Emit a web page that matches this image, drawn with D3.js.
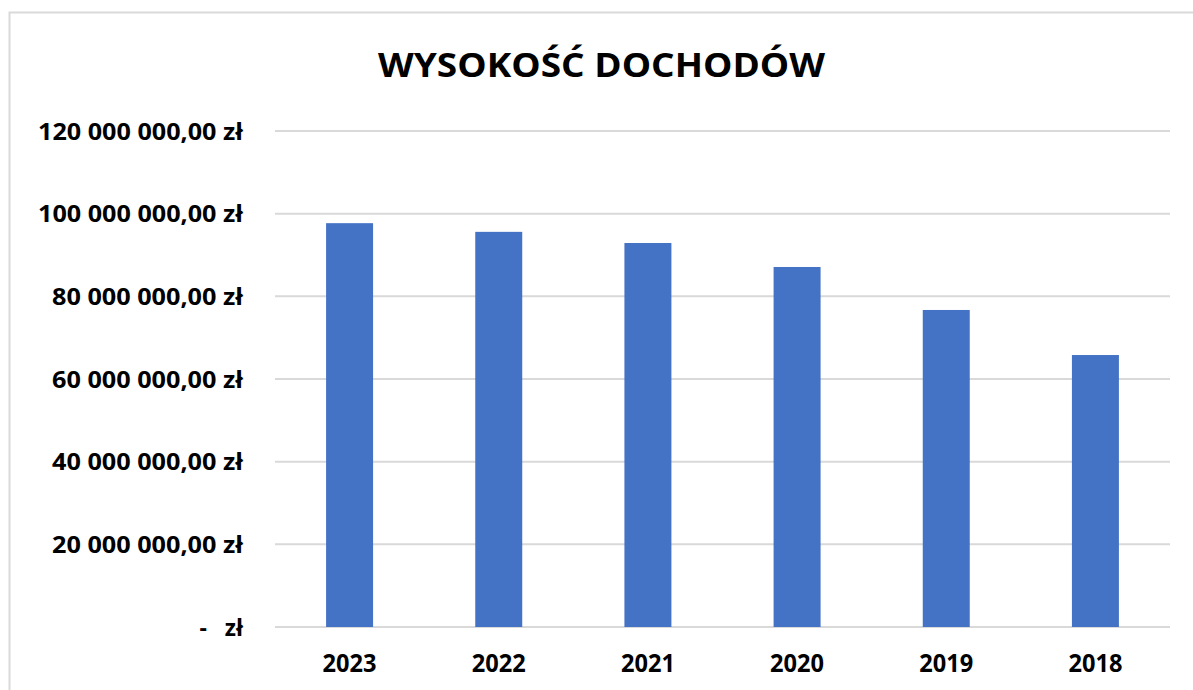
<!DOCTYPE html>
<html>
<head>
<meta charset="utf-8">
<script src="https://cdn.jsdelivr.net/npm/d3@7"></script>
<style>
  body { margin: 0; background: #fff; }
  text { font-family: 'Open Sans', sans-serif; font-weight: bold; fill: #000; }
</style>
</head>
<body>
<div id="chart"></div>
<script>
const years = ['2023', '2022', '2021', '2020', '2019', '2018'];
const incomes = [97700000, 95600000, 92900000, 87100000, 76700000, 65800000];
const yTicks = [0, 20000000, 40000000, 60000000, 80000000, 100000000, 120000000];
const chartTitle = 'WYSOKOŚĆ DOCHODÓW';

const width = 1193,
  height = 690;

const svg = d3
  .select('#chart')
  .append('svg')
  .attr('width', width)
  .attr('height', height);

// chart frame
svg
  .append('rect')
  .attr('x', 9.5)
  .attr('y', 12.5)
  .attr('width', 1200)
  .attr('height', 700)
  .attr('fill', '#fff')
  .attr('stroke', '#d9d9d9')
  .attr('stroke-width', 2);

const x = d3
  .scaleBand()
  .domain(years)
  .range([275, 1170])
  .paddingInner(0.685)
  .paddingOuter(0.3425);

const y = d3.scaleLinear().domain([0, 120000000]).range([627, 131]);

const fmt = (v) => {
  if (v === 0) return '-   zł';
  return d3.format(',.2f')(v).replace(/,/g, ' ').replace('.', ',') + ' zł';
};

// gridlines
svg
  .append('g')
  .selectAll('line')
  .data(yTicks)
  .enter()
  .append('line')
  .attr('x1', 275)
  .attr('x2', 1170)
  .attr('y1', (d) => y(d))
  .attr('y2', (d) => y(d))
  .attr('stroke', '#d9d9d9')
  .attr('stroke-width', 2);

// y labels
svg
  .append('g')
  .selectAll('text')
  .data(yTicks)
  .enter()
  .append('text')
  .attr('x', 243)
  .attr('y', (d) => y(d) + 8.5)
  .attr('text-anchor', 'end')
  .style('font-size', '23px')
  .style('white-space', 'pre')
  .attr('textLength', (d) => (d === 0 ? null : d >= 100000000 ? 205 : 191))
  .attr('lengthAdjust', 'spacingAndGlyphs')
  .text((d) => fmt(d));

// bars
svg
  .append('g')
  .selectAll('rect')
  .data(incomes)
  .enter()
  .append('rect')
  .attr('x', (d, i) => x(years[i]))
  .attr('y', (d) => y(d))
  .attr('width', x.bandwidth())
  .attr('height', (d) => y(0) - y(d))
  .attr('fill', '#4472c4');

// x labels
svg
  .append('g')
  .selectAll('text')
  .data(years)
  .enter()
  .append('text')
  .attr('x', (d) => x(d) + x.bandwidth() / 2)
  .attr('y', 672)
  .attr('text-anchor', 'middle')
  .style('font-size', '25px')
  .attr('textLength', 54)
  .attr('lengthAdjust', 'spacingAndGlyphs')
  .text((d) => d);

// title
svg
  .append('text')
  .attr('x', 601.5)
  .attr('y', 77)
  .attr('text-anchor', 'middle')
  .style('font-size', '34px')
  .attr('textLength', 447)
  .attr('lengthAdjust', 'spacingAndGlyphs')
  .text(chartTitle);
</script>
</body>
</html>
